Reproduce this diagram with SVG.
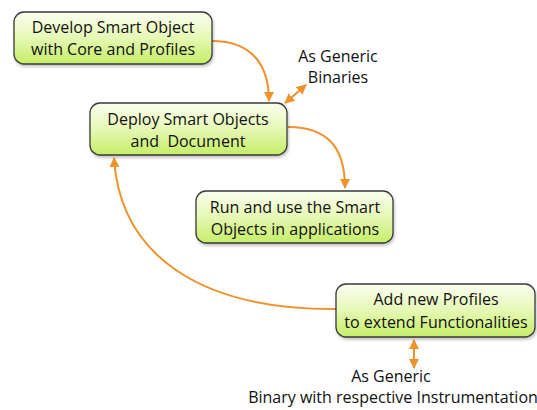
<svg xmlns="http://www.w3.org/2000/svg" width="537" height="410" viewBox="0 0 537 410">
<defs>
<linearGradient id="g" x1="0" y1="0" x2="0" y2="1">
<stop offset="0" stop-color="#fbfef0"/>
<stop offset="0.5" stop-color="#e6f8b4"/>
<stop offset="1" stop-color="#c4ee66"/>
</linearGradient>
<filter id="sh" x="-10%" y="-20%" width="120%" height="150%">
<feDropShadow dx="1" dy="2" stdDeviation="1.5" flood-color="#000" flood-opacity="0.25"/>
</filter>
<marker id="ah" viewBox="0 0 10 10" refX="9" refY="5" markerWidth="5" markerHeight="5" orient="auto-start-reverse" markerUnits="strokeWidth">
<path d="M0,0 L10,5 L0,10 Z" fill="#f0922c"/>
</marker>
<style>
.box{fill:url(#g);stroke:#3a3a3a;stroke-width:1.3;filter:url(#sh)}
.t{font-family:"Open Sans","Noto Sans",sans-serif;font-size:16px;fill:#111;text-anchor:middle;white-space:pre}
.c{fill:none;stroke:#f0922c;stroke-width:2}
</style>
</defs>
<g id="connectors">
<path class="c" d="M212,41 C252,41 269,65 269,101" marker-end="url(#ah)"/>
<path class="c" d="M285,103 L306,85" marker-start="url(#ah)" marker-end="url(#ah)"/>
<path class="c" d="M288,127 C330,127 345,150 345,188" marker-end="url(#ah)"/>
<path class="c" d="M336,309 C200,310 120,255 114,158" marker-end="url(#ah)"/>
<path class="c" d="M414,340 L414,368" marker-start="url(#ah)" marker-end="url(#ah)"/>
</g>
<g id="develop">
<rect class="box" x="14" y="12" width="198" height="52" rx="10"/>
<text class="t" x="113" y="33">Develop Smart Object</text>
<text class="t" x="113" y="55">with Core and Profiles</text>
</g>
<g id="deploy">
<rect class="box" x="90" y="103" width="197" height="52" rx="10"/>
<text class="t" x="188" y="125">Deploy Smart Objects</text>
<text class="t" x="188" y="147" xml:space="preserve">and  Document</text>
</g>
<g id="run">
<rect class="box" x="196" y="191" width="197" height="52" rx="10"/>
<text class="t" x="295" y="213">Run and use the Smart</text>
<text class="t" x="295" y="235">Objects in applications</text>
</g>
<g id="add">
<rect class="box" x="336" y="284" width="199" height="53" rx="10"/>
<text class="t" x="436" y="305">Add new Profiles</text>
<text class="t" x="436" y="328">to extend Functionalities</text>
</g>
<g id="label-binaries">
<text class="t" x="338" y="62">As Generic</text>
<text class="t" x="338" y="83">Binaries</text>
</g>
<g id="label-instrumentation">
<text class="t" x="391" y="382">As Generic</text>
<text class="t" x="393" y="403">Binary with respective Instrumentation</text>
</g>
</svg>
